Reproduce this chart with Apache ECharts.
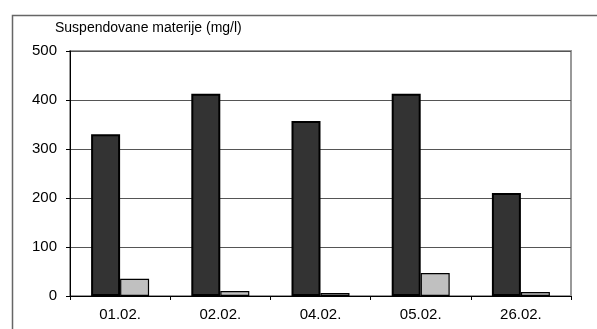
<!DOCTYPE html>
<html><head><meta charset="utf-8">
<script src="https://cdn.jsdelivr.net/npm/echarts@6/dist/echarts.min.js"></script>
<style>html,body{margin:0;padding:0;background:#fff}#c{width:597px;height:329px}</style>
</head><body><div id="c"></div>
<script>
var categories = ['01.02.', '02.02.', '04.02.', '05.02.', '26.02.'];
var seriesDark = [330, 413, 357, 413, 210];
var seriesLight = [35, 10, 6, 47, 8];
var yTicks = [0, 100, 200, 300, 400, 500];
var titleText = 'Suspendovane materije (mg/l)';

var chart = echarts.init(document.getElementById('c'), null, {renderer: 'canvas'});
var font = 'Liberation Sans, Arial, sans-serif';
chart.setOption({
  animation: false,
  backgroundColor: '#fff',
  graphic: [{
    type: 'rect', left: 10, top: 13, z: -10,
    shape: {x: 0, y: 0, width: 620, height: 340},
    style: {fill: 'none', stroke: '#666', lineWidth: 1.5}
  }],
  title: {
    text: titleText, left: 50, top: 16,
    textStyle: {fontFamily: font, fontSize: 14, fontWeight: 'normal', color: '#000'}
  },
  grid: {left: 70, right: 26, top: 51, bottom: 33, show: true, borderColor: '#999', borderWidth: 2, backgroundColor: '#fff'},
  xAxis: {
    type: 'category', data: categories,
    axisLine: {lineStyle: {color: '#000', width: 1}},
    axisTick: {show: true, length: 4, lineStyle: {color: '#000'}},
    axisLabel: {fontFamily: font, fontSize: 15, color: '#000', margin: 11},
    splitLine: {show: false}
  },
  yAxis: {
    type: 'value', min: yTicks[0], max: yTicks[yTicks.length - 1], interval: 100,
    axisLine: {show: true, lineStyle: {color: '#000', width: 1}},
    axisTick: {show: true, length: 4, lineStyle: {color: '#000'}},
    axisLabel: {fontFamily: font, fontSize: 15, color: '#000', margin: 13},
    splitLine: {show: true, lineStyle: {color: '#555', width: 1}}
  },
  series: [{
    type: 'bar', data: seriesDark, barWidth: 29, barGap: '0%',
    itemStyle: {color: '#333333', borderColor: '#000', borderWidth: 2}
  }, {
    type: 'bar', data: seriesLight, barWidth: 29, barGap: '0%',
    itemStyle: {color: '#c0c0c0', borderColor: '#000', borderWidth: 1.2}
  }]
});
</script></body></html>
